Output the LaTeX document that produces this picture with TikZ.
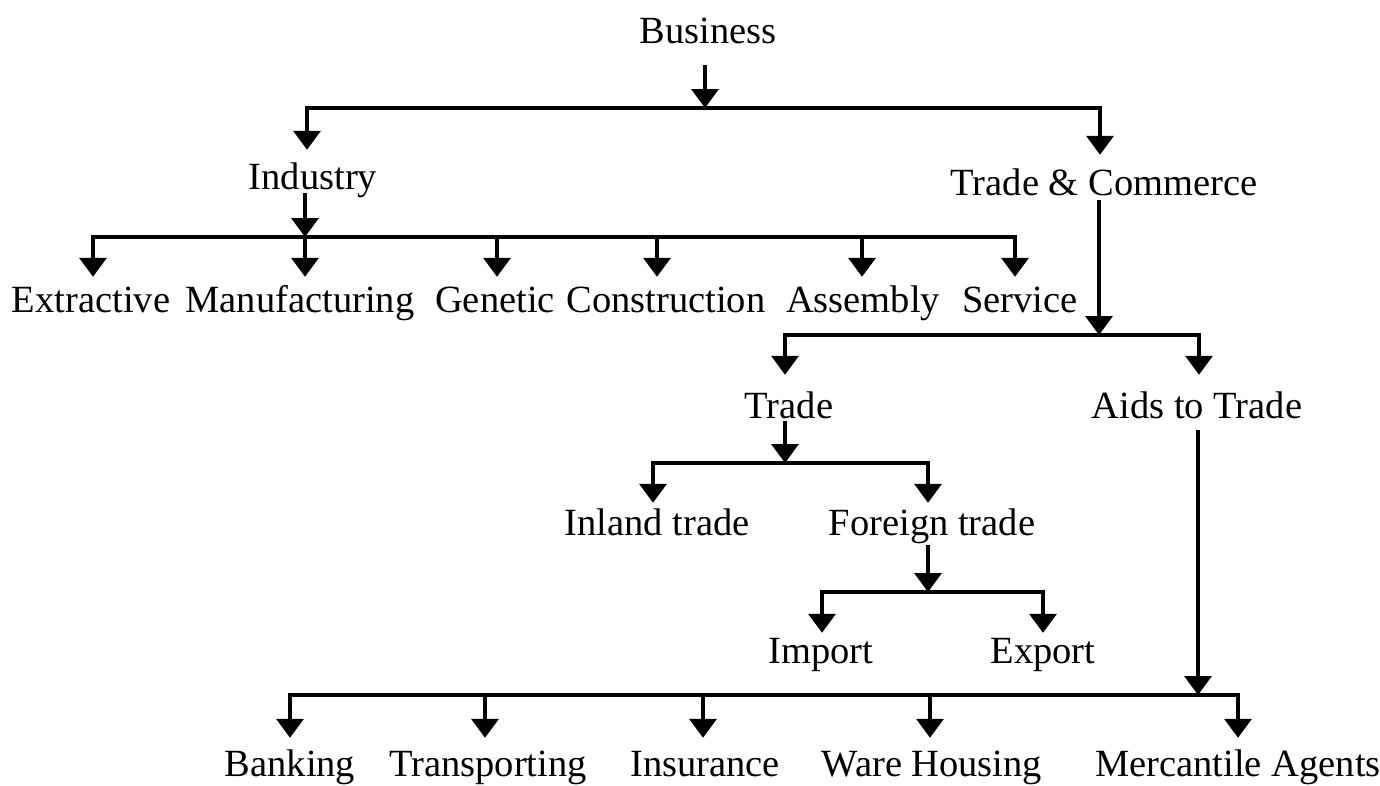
\documentclass[tikz,border=0pt]{standalone}
\usepackage{fontspec}
\setmainfont{Liberation Serif}
\usetikzlibrary{arrows.meta}
\begin{document}
\begin{tikzpicture}[x=1pt,y=-1pt,
  lbl/.style={anchor=base, inner xsep=0pt, inner ysep=8pt, text height=#1, text depth=9pt, font=\fontsize{38.5}{40}\selectfont},
  lbl/.default=28pt,
  conn/.style={line width=3.5pt, line join=miter},
  arr/.style={conn, -{Triangle[width=27pt,length=19pt]}},
  arr2/.style={conn, {Triangle[width=27pt,length=19pt]}-{Triangle[width=27pt,length=19pt]}}
]
\fill[white] (0,0) rectangle (1380,785);
\useasboundingbox (0,0) rectangle (1380,785);

% labels
\node[lbl] (bus) at (708,43) {Business};
\node[lbl=31pt] (ind) at (313,189) {Industry};
\node[lbl=32pt] (tc) at (1104,195) {Trade \& Commerce};

\node[lbl=27pt] (ext) at (91,312) {Extractive};
\node[lbl=27pt] (man) at (300,312) {Manufacturing};
\node[lbl=27pt] (gen) at (495,312) {Genetic};
\node[lbl=27pt] (con) at (666,312) {Construction};
\node[lbl=27pt] (ass) at (863,312) {Assembly};
\node[lbl=27pt] (ser) at (1020,312) {Service};

\node[lbl=35pt] (trd) at (789,418) {Trade};
\node[lbl=35pt] (aid) at (1197,418) {Aids to Trade};

\node[lbl=24pt] (inl) at (657,535) {Inland trade};
\node[lbl=24pt] (frg) at (932,535) {Foreign trade};

\node[lbl=22pt] (imp) at (821,663) {Import};
\node[lbl=22pt] (exq) at (1043,663) {Export};

\node[lbl=30pt] (ban) at (290,776) {Banking};
\node[lbl=30pt] (tra) at (488,776) {Transporting};
\node[lbl=30pt] (ins) at (705,776) {Insurance};
\node[lbl=30pt] (war) at (932,776) {Ware Housing};
\node[lbl=30pt] (mer) at (1238,776) {Mercantile Agents};

% junction points
\coordinate (b0) at (705,108);
\coordinate (b0L) at (307,108);
\coordinate (b0R) at (1100,108);

\coordinate (b1) at (305,237);
\coordinate (d11) at (93,237);
\coordinate (d12) at (305,237);
\coordinate (d13) at (497,237);
\coordinate (d14) at (657,237);
\coordinate (d15) at (862,237);
\coordinate (d16) at (1015,237);

\coordinate (b2) at (1099,335);
\coordinate (d21) at (785,335);
\coordinate (d22) at (1199,335);

\coordinate (b3) at (785,463);
\coordinate (d31) at (653,463);
\coordinate (d32) at (928,463);

\coordinate (b4) at (928,592);
\coordinate (d41) at (822,592);
\coordinate (d42) at (1043,592);

\coordinate (b5) at (1198,695);
\coordinate (d51) at (290,695);
\coordinate (d52) at (485,695);
\coordinate (d53) at (703,695);
\coordinate (d54) at (930,695);
\coordinate (d55) at (1238,695);

% Business
\draw[arr] ([yshift=-22pt]bus.base -| b0) -- (b0);
\draw[arr2] (b0L |- ind.north) -- (b0L) -- (b0R) -- (b0R |- tc.north);

% Industry
\draw[arr] ([yshift=-4pt]ind.base -| b1) -- (b1);
\draw[arr2] (d11 |- ext.north) -- (d11) -- (d16) -- (d16 |- ser.north);
\draw[arr] (d12) -- (d12 |- man.north);
\draw[arr] (d13) -- (d13 |- gen.north);
\draw[arr] (d14) -- (d14 |- con.north);
\draw[arr] (d15) -- (d15 |- ass.north);

% Trade & Commerce
\draw[arr] ([yshift=-5pt]tc.base -| b2) -- (b2);
\draw[arr2] (d21 |- trd.north) -- (d21) -- (d22) -- (d22 |- aid.north);

% Trade
\draw[arr] ([yshift=-3pt]trd.base -| b3) -- (b3);
\draw[arr2] (d31 |- inl.north) -- (d31) -- (d32) -- (d32 |- frg.north);

% Foreign trade
\draw[arr] ([yshift=-10pt]frg.base -| b4) -- (b4);
\draw[arr2] (d41 |- imp.north) -- (d41) -- (d42) -- (d42 |- exq.north);

% Aids to Trade
\draw[arr] ([yshift=-12pt]aid.base -| b5) -- (b5);
\draw[arr2] (d51 |- ban.north) -- (d51) -- (d55) -- (d55 |- mer.north);
\draw[arr] (d52) -- (d52 |- tra.north);
\draw[arr] (d53) -- (d53 |- ins.north);
\draw[arr] (d54) -- (d54 |- war.north);
\end{tikzpicture}
\end{document}
